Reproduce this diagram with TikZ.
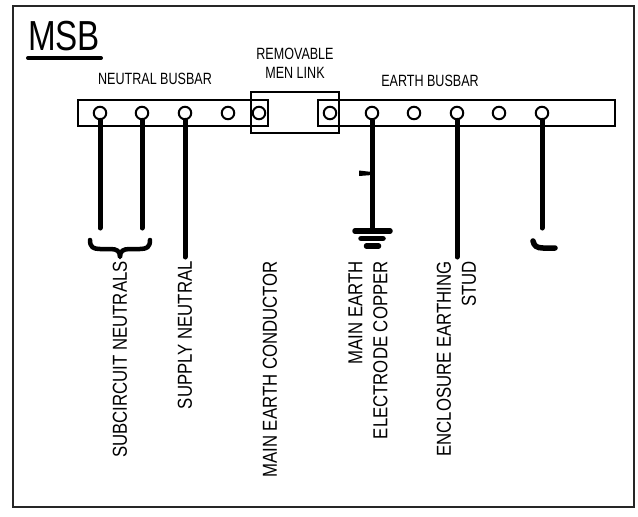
\documentclass[tikz,border=0pt]{standalone}
\usepackage{fontspec}
\newfontfamily\hfont[FakeStretch=0.77]{Liberation Sans}
\newfontfamily\vfont[FakeStretch=0.83]{Liberation Sans}
\newfontfamily\tfont[FakeStretch=0.79]{Liberation Sans}
\begin{document}
\begin{tikzpicture}[x=1pt,y=-1pt,
  bar/.style={draw=black,line width=2pt},
  term/.style={circle,draw=black,line width=2pt,minimum size=12.5pt,inner sep=0pt,fill=white},
  wire/.style={line width=5pt,line cap=round},
  hlabel/.style={font=\hfont\fontsize{16.3}{18}\selectfont,inner sep=0pt,align=center},
  vlabel/.style={font=\vfont\fontsize{20.2}{25}\selectfont,inner sep=0pt,rotate=90,anchor=east,align=right},
  gnd/.style={line width=5.5pt,line cap=round}]
\useasboundingbox (0,0) rectangle (638,517);
% frame
\draw[line width=1.5pt,draw=black!85] (13,6) rectangle (634,507);
% title
\node[font=\tfont\fontsize{42}{42}\selectfont,inner sep=0pt,anchor=base west] (msb) at (28,50) {MSB};
\draw[line width=4pt,line cap=round] (28,58) -- (101,58);
% busbars and link
\node[hlabel] (nlab) at (155,79) {NEUTRAL BUSBAR};
\node[hlabel] (elab) at (430,81) {EARTH BUSBAR};
\node[hlabel] (llab) at (295,63) {REMOVABLE\\[1pt]MEN LINK};
\draw[bar] (78,100) rectangle (268,126);
\draw[bar] (318,100) rectangle (615,126);
\draw[bar] (251,92) rectangle (339,133);
% terminals
\foreach \n/\x in {1/100,2/142,3/185,4/228,5/259,6/330,7/372,8/414,9/457,10/499,11/542}
  \node[term] (t\n) at (\x,113) {};
% wire ends
\coordinate (w1) at (100,228);
\coordinate (w2) at (142,228);
\coordinate (w3) at (185,257);
\coordinate (w7) at (372,231);
\coordinate (w9) at (457,257);
\coordinate (w11) at (542,228);
\draw[wire] (t1.south) -- (w1);
\draw[wire] (t2.south) -- (w2);
\draw[wire] (t3.south) -- (w3);
\draw[wire,line cap=butt] (t7.south) -- (w7);
\draw[wire] (t9.south) -- (w9);
\draw[wire] (t11.south) -- (w11);
% tick on electrode wire
\fill (359,170.5) -- (372,172) -- (372,175) -- (359,176) -- cycle;
% earth symbol
\draw[gnd] (355,231) -- (390,231);
\draw[gnd] (361,238.5) -- (383,238.5);
\draw[gnd] (366.5,246) -- (378.5,246);
% hook
\draw[wire,line width=5.5pt] (533,241) .. controls (534,246) and (537,248) .. (543,248) -- (555,248);
% brace
\draw[line width=4.5pt,line cap=round,line join=round]
  (90,240) .. controls (90,247) and (93,249) .. (100,249) -- (110,249)
  .. controls (117,249) and (120,251) .. (120,257)
  .. controls (120,251) and (123,249) .. (130,249) -- (140,249)
  .. controls (147,249) and (150,247) .. (150,240);
% labels
\node[vlabel] (l1) at (120,261) {SUBCIRCUIT NEUTRALS};
\node[vlabel] (l2) at (185,261) {SUPPLY NEUTRAL};
\node[vlabel] (l3) at (270,261) {MAIN EARTH CONDUCTOR};
\node[vlabel] (l4) at (368,261) {MAIN EARTH\\ELECTRODE COPPER};
\node[vlabel] (l5) at (456.5,261) {ENCLOSURE EARTHING\\STUD};
\end{tikzpicture}
\end{document}
